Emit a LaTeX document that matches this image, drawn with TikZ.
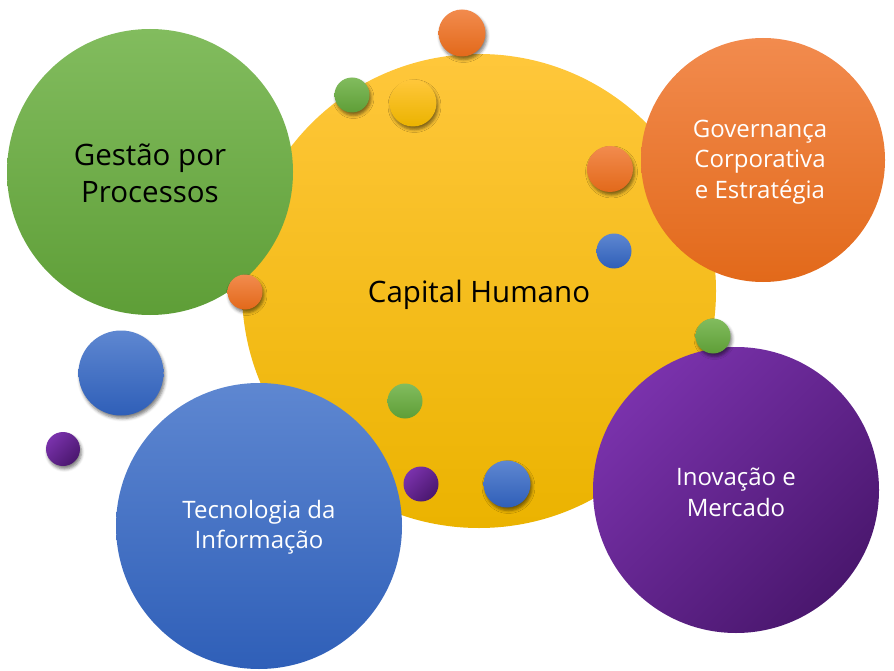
\documentclass[tikz,border=0pt]{standalone}
\usepackage{fontspec}
\setmainfont{Open Sans}
\usetikzlibrary{shadows.blur}
\definecolor{ylT}{HTML}{FFC73B}
\definecolor{ylB}{HTML}{EBB300}
\definecolor{gnT}{HTML}{82BC5E}
\definecolor{gnB}{HTML}{5E9E37}
\definecolor{orT}{HTML}{F28B4E}
\definecolor{orB}{HTML}{E2691A}
\definecolor{blT}{HTML}{5E87D1}
\definecolor{blB}{HTML}{2F5FB8}
\definecolor{puT}{HTML}{7A32AC}
\definecolor{puB}{HTML}{4A176E}
\tikzset{
  ball/.style={circle, inner sep=0pt, minimum size=#1, align=center},
  shd/.style={blur shadow={shadow xshift=1.5pt, shadow yshift=-3pt, shadow blur radius=3pt, shadow opacity=50}},
  yel/.style={top color=ylT, bottom color=ylB},
  grn/.style={top color=gnT, bottom color=gnB},
  org/.style={top color=orT, bottom color=orB},
  blu/.style={top color=blT, bottom color=blB},
  pur/.style={top color=puT, bottom color=puB, shading angle=45},
  capfont/.style={font=\fontsize{29.5}{35}\selectfont, text=black},
  bigblack/.style={font=\fontsize{29.5}{37}\selectfont, text=black, align=center},
  bigwhite/.style={font=\fontsize{24}{30.5}\selectfont, text=white, align=center},
}
\begin{document}
\begin{tikzpicture}[x=1pt,y=-1pt]
\useasboundingbox (0,0) rectangle (894,671);
% main circles
\node[ball=474pt, yel] (cap) at (479,291) {};
\node[capfont] (captxt) at (479,295) {Capital Humano};
\node[ball=286pt, grn] (ges) at (150,172) {};
\node[bigblack] (gestxt) at (150,173.5) {Gestão por\\Processos};
\node[ball=244pt, org] (gov) at (763,160) {};
\node[bigwhite] (govtxt) at (760,162) {Governança\\Corporativa\\e Estratégia};
\node[ball=286pt, pur] (ino) at (736,490) {};
\node[bigwhite] (inotxt) at (736,492.5) {Inovação e\\Mercado};
\node[ball=286pt, blu] (tec) at (259,526) {};
\node[bigwhite] (tectxt) at (259,527.5) {Tecnologia da\\Informação};
% small circles
\node[ball=47pt, org, shd] (s1) at (462,33) {};
\node[ball=35pt, grn, shd] (s2) at (352,95) {};
\node[ball=47pt, yel, shd] (s3) at (413,103) {};
\node[ball=46pt, org, shd] (s4) at (610,169) {};
\node[ball=35pt, blu] (s5) at (614,251) {};
\node[ball=35pt, org, shd] (s6) at (245,292) {};
\node[ball=35pt, grn, shd] (s7) at (713,336) {};
\node[ball=85pt, blu, shd] (s8) at (121,373) {};
\node[ball=34pt, pur, shd] (s9) at (63,449) {};
\node[ball=35pt, grn] (s10) at (405,401) {};
\node[ball=35pt, pur] (s11) at (421,484) {};
\node[ball=47pt, blu, shd] (s12) at (507,484) {};
\end{tikzpicture}
\end{document}
